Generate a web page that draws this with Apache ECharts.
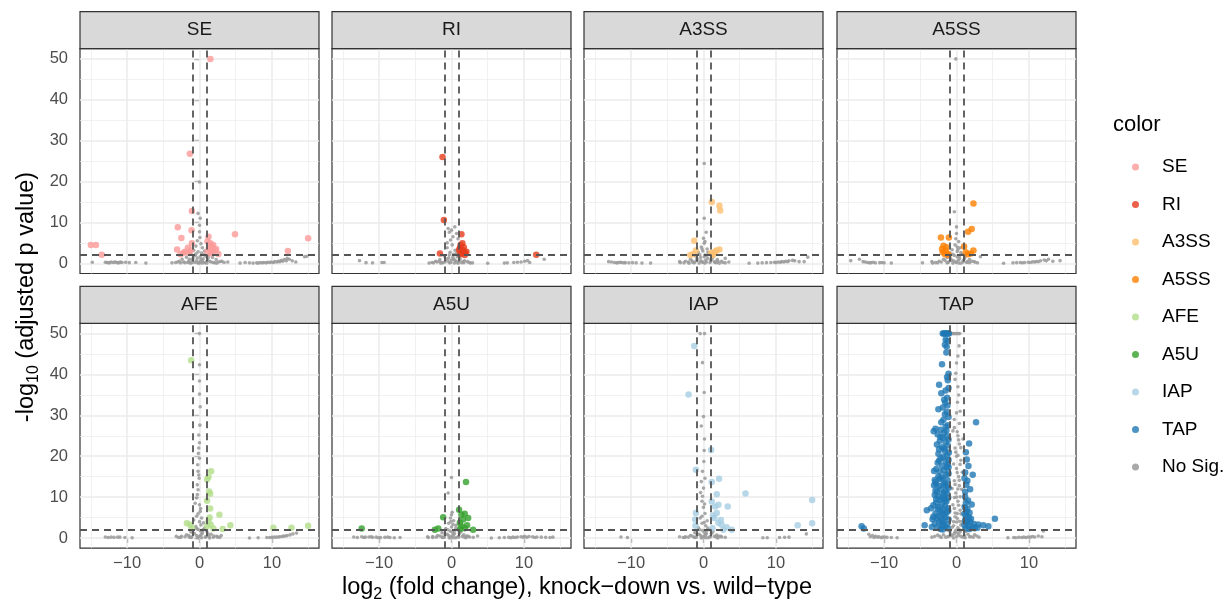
<!DOCTYPE html>
<html>
<head>
<meta charset="utf-8">
<title>Volcano facets</title>
<script src="https://cdn.jsdelivr.net/npm/echarts@6/dist/echarts.min.js"></script>
<style>
  html, body { margin: 0; padding: 0; background: #fff; }
  #chart { width: 1232px; height: 609px; }
</style>
</head>
<body>
<div id="chart"></div>
<script>
// facet names and colours (legend order)
const panels = ['SE', 'RI', 'A3SS', 'A5SS', 'AFE', 'A5U', 'IAP', 'TAP']
const panelColors = ['#FB9A99', '#E63B1C', '#FDBF6F', '#FF7F00', '#B2DF8A', '#33A02C', '#A6CEE3', '#1F78B4']
const nsColor = '#9A9A9A'

const xMajor = [-10, 0, 10]
const xMinor = [-15, -5, 5, 15]
const yMajor = [0, 10, 20, 30, 40, 50]
const yMinor = [5, 15, 25, 35, 45]
const fcCut = [-1, 1]
const pCut = 2

// [log2 fold change, -log10 adjusted p]
const seSig = [[1.5, 50], [-1.33, 26.8], [-1.05, 12.8], [-3.0, 8.8], [-1.1, 8.1], [-2.5, 6.2], [4.9, 7.1], [15.0, 6.1],
  [-15.0, 4.5], [-14.3, 4.5], [-13.5, 2.1], [12.2, 3.0], [-3.1, 3.4], [-2.2, 2.6], [-1.6, 3.8], [-1.05, 4.9], [-1.4, 2.5],
  [-2.0, 2.8], [1.24, 6.5], [1.1, 5.3], [1.5, 4.9], [1.7, 4.1], [1.9, 4.5], [2.15, 3.1], [2.6, 2.3], [1.8, 2.8], [1.3, 3.6],
  [1.6, 2.4], [1.1, 2.9], [2.3, 3.5], [-1.2, 3.2], [-2.6, 2.2]]
const seNs = [[0, 19.9], [-0.2, 12.2], [0.1, 11], [0, 9.3], [0, 7.7], [0.05, 6.3], [-0.3, 5.5], [0.2, 4.8], [-0.5, 4.2], [0.4, 3.8],
  [-0.8, 3.2], [0.7, 3.0], [-0.2, 2.8], [0.3, 2.5], [-1.2, 2.2], [1.3, 2.0], [-0.6, 1.9], [0.9, 1.7], [-1.8, 1.5], [1.8, 1.4],
  [-0.3, 1.3], [0.5, 1.1], [-2.4, 1.0], [2.3, 0.9], [-1.0, 0.8], [1.1, 0.7], [-2.8, 0.5], [2.9, 0.45], [-1.5, 0.4], [0.1, 0.35],
  [1.6, 0.3], [-0.7, 0.25], [-3.3, 0.2], [3.4, 0.2], [-2.0, 0.15], [2.1, 0.1], [0.6, 0.1], [-1.3, 0.05], [1.0, 0], [-0.1, 0],
  [3.9, 0.3], [-3.8, 0.1], [-0.4, 0.6], [0.2, 0.9], [-1.6, 0.2], [1.4, 0.5], [-0.9, 1.2], [0.8, 0.2], [-2.2, 0.3], [2.6, 0.3],
  [0.1, 1.6], [-0.5, 2.3], [0.6, 2.1], [-1.1, 0.1], [1.9, 0.2], [-2.6, 0.1], [2.4, 0.05], [0.3, 0.05], [-0.2, 0.15], [1.2, 1.3],
  [-1.4, 1.0], [0.4, 0.6], [-3.0, 0.3], [3.1, 0.5],
  [-14.8, 0.25], [-13.0, 0.25], [-12.6, 0.15], [-12.2, 0.3], [-11.9, 0.2], [-11.5, 0.25], [-11.1, 0.15], [-10.7, 0.2],
  [-10.2, 0.25], [-9.7, 0.15], [-8.8, 0.2], [-7.4, 0.05], [-12.8, 0.2], [-12.4, 0.1], [-11.7, 0.3], [-11.3, 0.1], [-10.9, 0.3],
  [5.6, 0.05], [6.3, 0.2], [6.9, 0.1], [7.4, 0.05], [7.9, 0.1], [8.4, 0.15], [8.9, 0.2], [9.4, 0.25], [9.9, 0.3], [10.4, 0.4],
  [10.9, 0.5], [11.3, 0.7], [11.7, 0.9], [12.1, 1.2], [12.4, 1.0], [12.8, 0.6], [13.3, 0.3], [14.5, 1.6], [14.8, 1.7],
  [8.1, 0.05], [8.7, 0.1], [9.2, 0.1], [9.7, 0.2], [10.2, 0.2], [10.7, 0.3], [11.1, 0.4], [11.5, 0.5], [12.0, 0.6]]

const riSig = [[-1.24, 26.0], [-1.05, 10.6], [-1.6, 2.4], [1.37, 7.1], [1.5, 4.9], [1.15, 3.7], [1.7, 3.9], [2.06, 2.8],
  [1.37, 2.4], [1.05, 3.25], [1.83, 2.0], [11.7, 2.1], [1.6, 3.2], [1.25, 4.4], [1.9, 2.6], [1.2, 2.2]]
const riNs = [[-0.46, 8.5], [0, 8.1], [0.46, 8.9], [0.7, 7.3], [-0.14, 5.7], [0.1, 4.5], [-0.6, 3.8], [0.5, 3.2], [-0.2, 2.7],
  [0.3, 2.2], [-1.0, 1.8], [0.8, 1.6], [-0.4, 1.3], [1.2, 1.1], [-1.6, 0.9], [0, 0.8], [1.8, 0.6], [-2.2, 0.5], [0.6, 0.4],
  [-0.9, 0.3], [2.4, 0.25], [-2.7, 0.2], [1.4, 0.15], [-0.3, 0.1], [-1.5, 0.05], [0.9, 0], [2.9, 0.1], [-3.1, 0.05],
  [-0.5, 0.6], [0.3, 1.0], [-1.3, 0.2], [1.6, 0.4], [-0.8, 1.1], [0.9, 0.3], [-2.0, 0.3], [2.2, 0.4], [0.2, 1.5], [-0.3, 2.0],
  [0.7, 2.5], [-1.2, 0.1], [1.7, 0.15], [-2.5, 0.1], [2.6, 0.05], [0.4, 0.05], [-0.1, 0.2], [1.1, 0.8], [-1.7, 0.5], [0.5, 0.7],
  [-0.6, 5.0], [0.2, 6.5], [-0.3, 7.6], [0.9, 6.0],
  [-12.7, 0.65], [-11.8, 0.15], [-9.6, 0.2], [-9.3, 0.2], [-10.9, 0.1],
  [5.0, 0], [7.3, 0.05], [7.7, 0.1], [8.6, 0.2], [9.1, 0.25], [9.6, 0.3], [10.1, 0.5], [10.5, 0.65], [10.8, 0.2], [12.8, 1.0]]

const a3ssSig = [[1.14, 15.0], [2.2, 14.1], [2.3, 12.9], [-1.28, 5.5], [-1.05, 3.1], [-1.83, 2.0], [-1.4, 2.3], [1.24, 2.3],
  [1.6, 2.8], [2.2, 3.4], [1.8, 3.1], [1.3, 2.0], [1.05, 2.6]]
const a3ssNs = [[0.1, 24.4], [0.1, 11.0], [0.37, 7.6], [0, 6.1], [0.1, 4.9], [-0.3, 4.0], [0.5, 3.5], [-0.1, 3.0], [-0.7, 2.6],
  [0.8, 2.3], [0.2, 2.0], [-1.1, 1.8], [1.3, 1.5], [-0.4, 1.4], [0.6, 1.2], [-1.8, 1.0], [1.9, 0.9], [-0.9, 0.7], [1.0, 0.6],
  [-2.5, 0.5], [2.5, 0.5], [-0.2, 0.4], [0.4, 0.3], [-1.5, 0.25], [1.6, 0.2], [-3.2, 0.15], [3.0, 0.1], [-0.6, 0.05], [2.2, 0],
  [-2.0, 0], [3.0, 1.2], [-0.4, 0.6], [0.3, 0.8], [-1.2, 0.3], [1.5, 0.4], [-0.9, 1.1], [0.9, 0.2], [-2.1, 0.3], [2.0, 0.5],
  [0.1, 1.6], [-0.5, 2.1], [0.6, 2.7], [-1.3, 0.1], [1.8, 0.15], [-2.7, 0.1], [2.7, 0.2], [0.2, 0.05], [-0.1, 0.2], [1.1, 1.0],
  [-1.6, 0.6], [0.4, 1.9], [-3.3, 0.4], [3.5, 0.3], [0.2, 5.3], [-0.2, 3.5],
  [-13.1, 0.4], [-12.3, 0.2], [-11.8, 0.15], [-11.3, 0.2], [-10.8, 0.15], [-10.3, 0.1], [-9.8, 0.15], [-9.3, 0.1], [-8.5, 0.05],
  [-12.7, 0.3], [-12.0, 0.1], [-11.5, 0.25], [-11.0, 0.1],
  [-7.3, 0.05], [6.3, 0], [7.5, 0.05], [8.1, 0.1], [8.7, 0.15], [9.3, 0.2], [9.8, 0.25], [10.3, 0.3], [10.8, 0.4], [11.3, 0.5],
  [11.8, 0.6], [12.3, 0.7], [12.6, 0.6], [13.2, 0.4], [13.9, 0.4], [14.4, 1.5], [10.0, 0.15], [10.6, 0.25], [11.1, 0.3], [11.6, 0.4]]

const a5ssSig = [[2.34, 14.6], [2.1, 8.4], [1.6, 7.7], [-2.15, 6.3], [-1.05, 6.3], [-1.8, 4.3], [-1.37, 3.9], [-1.55, 3.1],
  [-1.24, 2.4], [-1.9, 2.7], [1.05, 4.1], [1.28, 2.7], [2.34, 3.1], [1.97, 2.4], [-1.1, 2.0], [-1.6, 2.2], [-2.0, 3.5], [1.6, 2.2]]
const a5ssNs = [[-0.1, 50.0], [-0.3, 12.6], [0, 8.9], [0, 7.3], [0.3, 5.3], [-0.2, 4.5], [0.5, 3.8], [-0.6, 3.3], [0.1, 2.9],
  [-0.9, 2.5], [0.8, 2.2], [-0.3, 1.9], [1.2, 1.6], [-1.3, 1.4], [0.4, 1.2], [-1.8, 1.0], [1.8, 0.9], [-0.7, 0.7], [0.9, 0.6],
  [-2.4, 0.5], [2.4, 0.45], [0, 0.35], [-1.1, 0.3], [1.4, 0.2], [-2.9, 0.15], [2.9, 0.1], [-0.5, 0.05], [0.6, 0], [3.3, 1.6],
  [-3.3, 0.05], [-0.4, 0.6], [0.3, 0.8], [-1.2, 0.2], [1.5, 0.4], [-0.8, 1.1], [0.9, 0.3], [-2.1, 0.3], [2.1, 0.5], [0.1, 1.6],
  [-0.5, 2.2], [0.6, 2.6], [-1.3, 0.1], [1.8, 0.15], [-2.6, 0.1], [2.6, 0.25], [0.3, 0.05], [-0.1, 0.2], [1.1, 1.1], [-1.6, 0.7],
  [0.4, 1.8], [-3.4, 0.4], [0.1, 4.0], [-0.1, 6.0], [0.2, 3.4],
  [-14.6, 0.65], [-13.4, 1.0], [-12.9, 0.4], [-12.3, 0.2], [-11.8, 0.15], [-11.2, 0.1], [-10.6, 0.15], [-10.0, 0.1], [-9.0, 0.05],
  [-12.6, 0.3], [-12.0, 0.1], [-11.5, 0.25], [-10.3, 0.2],
  [-4.7, 0.1], [6.5, 0], [7.8, 0.1], [8.3, 0.15], [8.8, 0.2], [9.4, 0.2], [9.9, 0.25], [10.5, 0.35], [11.0, 0.45], [11.6, 0.6],
  [12.1, 0.8], [12.7, 1.0], [13.3, 0.5], [14.3, 0.65], [9.1, 0.1], [10.2, 0.2], [10.8, 0.3], [11.3, 0.4], [12.4, 0.6]]

const afeSig = [[-1.15, 43.5], [1.6, 16.3], [1.24, 14.9], [1.05, 14.3], [1.33, 11.4], [1.47, 10.8], [1.05, 9.1], [1.47, 7.2],
  [2.75, 5.7], [4.26, 3.1], [3.2, 2.2], [10.2, 2.5], [12.7, 2.5], [15.0, 3.0], [-1.74, 3.6], [-1.28, 3.25], [-1.05, 2.4],
  [1.24, 4.1], [1.55, 3.25], [1.92, 2.3], [1.05, 2.85], [1.4, 5.0]]
const afeNs = [[0, 50], [0, 42.4], [0, 38.4], [0, 35.2], [0.1, 32.1], [-0.1, 25.2], [0, 23.3], [-0.1, 22], [-0.15, 20.7],
  [0, 19.5], [-0.25, 17.9], [-0.2, 16.3], [-0.05, 14.6], [-0.3, 13.0], [-0.2, 11.8], [-0.4, 9.8], [0, 8.1], [-0.6, 8.5],
  [0.1, 6.5], [-0.4, 5.3], [0.3, 4.9], [0.55, 3.7], [-0.8, 4.4], [0.2, 3.2], [-0.5, 2.8], [0.7, 2.4], [-0.2, 2.1], [1.0, 1.7],
  [-1.2, 1.5], [0.4, 1.3], [-0.7, 1.1], [1.6, 0.9], [-1.8, 0.8], [0.1, 0.6], [-2.5, 0.4], [2.4, 0.4], [0.9, 0.3], [-1.1, 0.2],
  [2.8, 0.15], [-2.9, 0.1], [-0.3, 0.05], [1.4, 0], [-0.4, 0.6], [0.3, 0.9], [-1.4, 0.2], [1.3, 0.4], [-0.9, 1.2], [0.8, 0.2],
  [-2.0, 0.3], [2.0, 0.5], [0.15, 1.7], [-0.4, 2.3], [0.5, 2.0], [-1.2, 0.1], [1.9, 0.15], [-2.6, 0.1], [2.5, 0.2], [0.3, 0.05],
  [-0.1, 0.25], [1.2, 1.0], [-1.5, 0.6], [0.4, 1.8], [-3.2, 0.4], [3.0, 0.6], [0, 4.0], [-0.2, 5.9], [0.15, 7.2], [-0.3, 10.6],
  [-0.1, 15.4], [0.05, 27.6],
  [-13.0, 0.25], [-12.2, 0.2], [-11.8, 0.15], [-11.3, 0.2], [-10.3, 0.1], [-9.3, 0.05], [-12.6, 0.1], [-11.0, 0.2],
  [6.9, 0], [8.1, 0.05], [9.3, 0.1], [10.0, 0.15], [10.6, 0.2], [11.1, 0.3], [11.6, 0.45], [12.1, 0.6], [12.5, 0.75],
  [12.9, 1.0], [13.4, 1.2], [9.7, 0.1], [10.3, 0.2], [10.9, 0.25], [11.4, 0.35], [11.9, 0.5]]

const a5uSig = [[2.0, 13.7], [1.05, 6.9], [-1.15, 5.1], [1.83, 5.9], [1.37, 5.7], [1.6, 4.5], [1.15, 3.7], [2.15, 3.1],
  [2.98, 2.0], [-12.4, 2.3], [-1.83, 2.3], [-2.3, 2.0], [1.37, 2.85], [1.83, 2.4], [1.2, 2.2], [2.3, 4.9]]
const a5uNs = [[0, 14.8], [-0.46, 11.0], [0, 5.7], [-0.15, 4.9], [0.3, 4.2], [-0.4, 3.6], [0.6, 3.1], [0, 2.7], [-0.8, 2.3],
  [0.9, 2.0], [-0.2, 1.7], [1.3, 1.5], [-1.3, 1.3], [0.4, 1.1], [-0.6, 0.9], [1.7, 0.8], [-1.9, 0.6], [0.1, 0.5], [2.3, 0.4],
  [-2.6, 0.35], [1.0, 0.25], [-1.0, 0.2], [3.0, 0.15], [-3.2, 0.1], [0.6, 0.05], [-0.3, 0], [2.0, 0.05], [3.6, 0.5],
  [-0.4, 0.6], [0.3, 0.8], [-1.3, 0.2], [1.5, 0.4], [-0.9, 1.0], [0.9, 0.3], [-2.1, 0.2], [2.1, 0.5], [0.1, 1.4], [-0.5, 2.0],
  [0.6, 2.4], [-1.2, 0.1], [1.8, 0.15], [-2.6, 0.1], [2.5, 0.25], [0.3, 0.05], [-0.1, 0.2], [1.1, 1.1], [-1.6, 0.5], [0.4, 1.8],
  [-3.3, 0.3], [0.2, 3.3], [-0.1, 4.0], [0.1, 6.3],
  [-13.5, 0.25], [-12.4, 0.3], [-11.9, 0.2], [-11.4, 0.25], [-10.9, 0.15], [-10.4, 0.2], [-9.8, 0.1], [-9.2, 0.15],
  [-8.5, 0.1], [-7.9, 0.05], [-7.1, 0.1], [-13.0, 0.1], [-12.1, 0.1], [-11.1, 0.3], [-10.1, 0.05], [-8.8, 0.2],
  [5.5, 0], [6.6, 0.05], [7.3, 0.1], [7.9, 0.15], [8.5, 0.2], [9.1, 0.25], [9.6, 0.3], [10.1, 0.4], [10.7, 0.35], [11.2, 0.3],
  [11.8, 0.25], [12.4, 0.2], [13.0, 0.15], [13.6, 0.1], [14.0, 0.2], [8.2, 0.05], [8.8, 0.1], [9.9, 0.2], [10.4, 0.15], [11.5, 0.1]]

const iapSig = [[-1.28, 47.0], [-2.06, 35.1], [1.05, 21.5], [-1.05, 16.7], [2.15, 14.5], [1.14, 13.7], [1.83, 10.7],
  [5.8, 10.9], [15.0, 9.3], [15.0, 3.6], [13.0, 3.1], [3.34, 7.7], [-1.05, 6.1], [-1.15, 4.5], [1.14, 8.9], [1.6, 7.7],
  [2.06, 8.1], [1.83, 6.1], [1.5, 4.9], [2.06, 3.7], [2.5, 3.25], [3.2, 2.6], [3.9, 2.0], [2.75, 2.0], [1.24, 2.4],
  [-1.1, 3.0], [1.3, 5.5], [2.4, 4.4]]
const iapNs = [[-0.46, 50], [0.14, 50], [-0.14, 42.9], [0, 29.7], [0.14, 24.2], [0.1, 21.4], [0.05, 18.7], [-0.14, 16.3],
  [-0.3, 13.8], [0, 12.2], [-0.14, 10.2], [-0.2, 9.0], [0, 7.5], [0.2, 6.0], [-0.45, 4.9], [0.5, 4.2], [-0.2, 3.6], [0.3, 3.0],
  [-0.7, 2.5], [0.8, 2.0], [-0.1, 1.8], [1.3, 1.5], [-1.2, 1.3], [0.4, 1.1], [-0.6, 0.9], [1.8, 0.7], [-1.8, 0.6], [0.1, 0.5],
  [2.4, 0.4], [-2.5, 0.3], [0.9, 0.25], [-1.0, 0.2], [3.0, 0.15], [-2.8, 0.1], [0.6, 0.05], [-0.3, 0], [2.0, 0],
  [-0.4, 0.6], [0.3, 0.8], [-1.3, 0.2], [1.5, 0.4], [-0.9, 1.0], [0.9, 0.3], [-2.1, 0.2], [2.1, 0.5], [0.1, 1.4], [-0.5, 2.0],
  [0.6, 2.4], [-1.2, 0.1], [1.8, 0.15], [-2.6, 0.1], [2.5, 0.25], [0.3, 0.05], [-0.1, 0.2], [1.1, 1.1], [-1.6, 0.5], [0.4, 1.8],
  [-3.3, 0.3], [0.1, 3.8], [-0.2, 5.3], [0.15, 8.3], [-0.4, 11.1], [0.2, 14.6], [-0.3, 27.4], [0.1, 35.6],
  [-11.4, 0.25], [-10.5, 0.1], [8.2, 0.05], [8.8, 0.05], [10.5, 0.1], [11.2, 0.15], [11.8, 0.2], [14.2, 1.0]]

const tapSig = [[-1.9, 50], [-1.75, 50], [-1.6, 50], [-1.45, 50], [-1.3, 50], [-1.15, 50], [-1.05, 50],
  [-1.5, 48.5], [-1.25, 48.2], [-1.35, 46.8], [-1.6, 47.3], [-1.4, 45.4], [-2.0, 42.5], [-1.1, 40.2], [-1.3, 39.4], [-1.2, 38.6],
  [-2.4, 37.5], [-1.5, 36.1], [-1.1, 36.7], [-2.1, 35.4], [-1.3, 34.3], [-1.7, 33.8], [-1.55, 33.1], [-1.25, 32.4], [-1.9, 31.9],
  [-2.5, 31.5], [-1.35, 30.8], [-1.6, 30.3], [-1.1, 29.6], [-1.8, 28.9], [-2.1, 28.3], [-1.2, 27.6], [-1.5, 27.2], [-2.9, 26.7],
  [-2.2, 26.5], [-3.15, 26.1], [-1.7, 25.8], [-2.6, 25.3], [-1.3, 24.9], [-1.9, 24.5], [-1.1, 24.1], [-2.3, 23.8], [-1.5, 23.4],
  [-2.7, 22.9], [-1.2, 22.6], [-2.0, 22.2], [-2.4, 21.7], [-1.6, 21.3], [-1.05, 20.9], [-2.5, 20.6], [-1.3, 20.2], [-1.8, 19.8],
  [-2.2, 19.5], [-1.1, 19.1], [-1.5, 18.7], [-2.6, 18.4], [-1.2, 18.0], [-2.0, 17.6], [-1.35, 17.3], [-2.8, 16.9], [-1.7, 16.6],
  [-2.3, 16.2], [-1.1, 15.8], [-1.45, 15.5], [-2.5, 15.1], [-1.9, 14.8], [-2.1, 14.4], [-1.25, 14.1], [-2.9, 13.7], [-1.6, 13.4],
  [-1.8, 13.0], [-2.4, 12.7], [-1.1, 12.3], [-3.1, 12.9], [-2.2, 11.9], [-1.5, 11.6], [-2.7, 11.3], [-1.3, 10.9], [-1.9, 10.6],
  [-2.6, 10.3], [-1.15, 9.9], [-3.0, 10.5], [-1.7, 9.6], [-2.3, 9.3], [-1.4, 8.9], [-2.8, 8.6], [-2.0, 8.3], [-1.6, 7.9],
  [-2.5, 7.6], [-1.2, 7.3], [-3.2, 8.0], [-1.9, 6.9], [-2.2, 6.6], [-1.35, 6.3], [-2.9, 6.0], [-1.75, 5.7], [-2.5, 5.4], [-1.5, 5.1],
  [-2.7, 4.8], [-1.1, 4.5], [-2.1, 4.2], [-3.3, 4.6], [-2.4, 3.9], [-1.8, 3.6], [-1.3, 3.3], [-3.0, 3.5], [-2.0, 3.0], [-4.1, 6.8],
  [-1.6, 2.8], [-2.6, 2.6], [-1.2, 2.4], [-2.2, 2.2], [-3.4, 2.7], [-1.9, 2.1], [-2.0, 9.8], [-1.4, 12.8], [-2.8, 13.2], [-1.1, 17.3],
  [-3.1, 16.4], [-2.4, 18.9], [-1.7, 21.9], [-2.3, 14.6], [-2.9, 11.6], [-3.5, 7.3], [-2.0, 5.9], [-4.4, 3.1], [-1.5, 9.3],
  [-2.6, 7.1], [-1.9, 4.4], [-3.2, 5.2], [-1.15, 6.6], [-2.2, 24.7], [-1.4, 26.3], [-2.8, 9.5], [-1.7, 11.1], [-3.0, 14.2],
  [-13.1, 2.9], [-12.8, 2.3],
  [2.7, 28.3], [1.74, 23.1], [1.3, 21], [1.42, 19.2], [1.65, 17.6], [1.2, 16], [2.24, 15.5], [1.5, 14], [1.1, 14.6], [1.35, 13],
  [1.88, 11.9], [1.2, 11.3], [1.19, 10.1], [1.6, 9.2], [1.3, 8.6], [2.1, 8.2], [1.15, 7.5], [1.5, 7.1], [1.4, 6.5], [1.8, 6.2],
  [1.1, 5.9], [1.3, 5.5], [1.7, 5.1], [2.0, 4.7], [5.3, 4.7], [1.2, 4.4], [1.55, 4.1], [1.4, 3.7], [1.9, 3.9], [2.4, 3.4],
  [1.1, 3.2], [3.0, 3.3], [1.6, 2.9], [2.2, 2.7], [3.7, 3.1], [4.4, 2.9], [1.3, 2.3], [1.8, 2.2], [2.5, 2.4], [2.9, 2.5]]
const tapNs = [[-0.8, 50], [-0.6, 50], [-0.4, 50], [-0.2, 50], [0, 50], [0.25, 50], [0.45, 50], [0, 42.8], [-0.1, 40.3],
  [0.2, 37], [0.14, 33.2], [0, 30.6], [-0.3, 29], [0.4, 28], [0.1, 26], [-0.5, 26.2], [0.3, 24], [0.9, 24.2], [-0.2, 22],
  [0.6, 22.1], [0, 20], [0.2, 20.2], [0.5, 18], [-0.4, 18.1], [0.1, 16], [0.8, 16.1], [-0.3, 14], [0.4, 14.1], [0.2, 12],
  [-0.6, 12.1], [0.7, 11.9], [0, 10], [0.5, 10.1], [-0.3, 9.9], [0.3, 8], [-0.5, 8.1], [0.9, 7.9], [0.1, 6], [-0.2, 6.1],
  [0.6, 5.9], [-0.4, 4], [0.4, 4.1], [0, 3.9], [0.8, 4], [0.2, 2.5], [-0.6, 2.6], [1.0, 2.4], [-0.9, 1.5], [0.5, 1.5],
  [-0.2, 1.4], [1.3, 1.6], [-1.8, 0.8], [-0.7, 0.8], [0.3, 0.7], [1.6, 0.9], [2.5, 0.8], [-2.6, 0.7], [-1.2, 0.3], [0, 0.3],
  [0.9, 0.2], [2.0, 0.3], [3.1, 0.2], [-3.4, 0.2], [-2.1, 0.1], [1.2, 0.05], [-0.4, 0],
  [-0.6, 0.5], [0.6, 0.4], [-0.3, 1.0], [0.2, 1.2], [-1.0, 0.5], [1.1, 0.6], [-1.5, 0.2], [1.8, 0.3], [-2.3, 0.4], [2.3, 0.2],
  [-0.1, 1.9], [0.4, 2.0], [-0.4, 3.0], [0.6, 3.2], [0.1, 4.8], [-0.2, 5.2], [0.5, 6.8], [-0.3, 7.2], [0.2, 9.0], [-0.1, 11],
  [0.4, 12.8], [-0.2, 13.1], [0.3, 15], [0, 17], [0.6, 19], [-0.1, 21], [0.4, 23], [0.2, 25], [-0.3, 27], [0.5, 31], [0.3, 35],
  [-0.2, 38.8], [0.2, 44.5], [0.35, 47], [-3.0, 0.4], [2.8, 0.5],
  [-12.1, 0.9], [-11.6, 0.6], [-11.2, 0.4], [-10.7, 0.3], [-10.2, 0.2], [-9.6, 0.15], [-9.0, 0.1], [-8.2, 0.05],
  [-11.9, 0.3], [-11.4, 0.1], [-10.9, 0.2], [-10.4, 0.05], [-9.9, 0.25],
  [7.1, 0.05], [7.9, 0.1], [8.6, 0.15], [9.3, 0.2], [9.9, 0.25], [10.5, 0.35], [11.3, 0.5], [11.8, 0.3], [12.0, 1.7],
  [8.2, 0.05], [9.0, 0.1], [9.6, 0.1], [10.2, 0.2], [10.8, 0.25]]

const sigData = [seSig, riSig, a3ssSig, a5ssSig, afeSig, a5uSig, iapSig, tapSig]
const nsData = [seNs, riNs, a3ssNs, a5ssNs, afeNs, a5uNs, iapNs, tapNs]

// layout (px)
const colLeft = [80, 332, 584, 837]
const rowTop = [48.7, 323.4]
const panelW = 239
const panelH = 224.8
const stripH = 37
const font = '"Liberation Sans", Arial, Helvetica, sans-serif'

const minus = v => (v < 0 ? '\u2212' + Math.abs(v) : String(v))

const grids = []
const xAxes = []
const yAxes = []
const series = []
const graphics = []

panels.forEach((name, i) => {
  const col = i % 4
  const row = Math.floor(i / 4)
  grids.push({
    left: colLeft[col], top: rowTop[row], width: panelW, height: panelH,
    show: true, backgroundColor: '#fff', borderColor: '#333333', borderWidth: 1.2,
  })
  xAxes.push({
    type: 'value', gridIndex: i, min: -16.5, max: 16.5,
    axisLine: { show: false },
    splitLine: { show: false },
    axisTick: { show: row === 1, customValues: xMajor, length: 5, lineStyle: { color: '#333333', width: 1.2 } },
    axisLabel: { show: row === 1, customValues: xMajor, formatter: minus, color: '#4D4D4D', fontSize: 16.5, fontFamily: font, margin: 7 },
  })
  yAxes.push({
    type: 'value', gridIndex: i, min: -2.5, max: 52.5,
    axisLine: { show: false },
    splitLine: { show: false },
    axisTick: { show: col === 0, customValues: yMajor, length: 5, lineStyle: { color: '#333333', width: 1.2 } },
    axisLabel: { show: col === 0, customValues: yMajor, color: '#4D4D4D', fontSize: 16.5, fontFamily: font, margin: 12 },
  })

  const gridLines = [
    ...xMinor.map(v => ({ xAxis: v, lineStyle: { width: 0.7 } })),
    ...yMinor.map(v => ({ yAxis: v, lineStyle: { width: 0.7 } })),
    ...xMajor.map(v => ({ xAxis: v, lineStyle: { width: 1.5 } })),
    ...yMajor.map(v => ({ yAxis: v, lineStyle: { width: 1.5 } })),
  ]
  series.push({
    name: 'grid' + i, type: 'scatter', xAxisIndex: i, yAxisIndex: i, data: [], z: 1, silent: true,
    markLine: {
      z: 1, silent: true, symbol: ['none', 'none'], label: { show: false },
      lineStyle: { color: '#EBEBEB', type: 'solid' },
      data: gridLines,
    },
  })
  series.push({
    name: 'No Sig.', type: 'scatter', xAxisIndex: i, yAxisIndex: i, z: 2,
    data: nsData[i], symbolSize: 3.6,
    itemStyle: { color: nsColor, opacity: 0.85, borderWidth: 0 },
  })
  series.push({
    name, type: 'scatter', xAxisIndex: i, yAxisIndex: i, z: 3,
    data: sigData[i], symbolSize: 6.5,
    itemStyle: { color: panelColors[i], opacity: 0.8, borderWidth: 0 },
  })
  series.push({
    name: 'cut' + i, type: 'scatter', xAxisIndex: i, yAxisIndex: i, data: [], z: 4, silent: true,
    markLine: {
      z: 6, silent: true, symbol: ['none', 'none'], label: { show: false },
      lineStyle: { color: '#555555', type: [7, 5], width: 1.8 },
      data: [...fcCut.map(v => ({ xAxis: v })), { yAxis: pCut }],
    },
  })

  // facet strip
  graphics.push({
    type: 'rect', silent: true, z: 10,
    shape: { x: colLeft[col], y: rowTop[row] - stripH, width: panelW, height: stripH },
    style: { fill: '#D9D9D9', stroke: '#333333', lineWidth: 1.2 },
  })
  graphics.push({
    type: 'text', silent: true, z: 11,
    x: colLeft[col] + panelW / 2, y: rowTop[row] - stripH / 2,
    style: { text: name, fill: '#1A1A1A', font: '19px ' + font, align: 'center', verticalAlign: 'middle' },
  })
})

// axis titles with subscripts
const titleRich = {
  n: { fontSize: 23.5, fontFamily: font, fill: '#000' },
  s: { fontSize: 16, fontFamily: font, fill: '#000', padding: [13, 0, 0, 0] },
}
graphics.push({
  type: 'text', silent: true, x: 577, y: 588,
  style: {
    text: '{n|log}{s|2}{n| (fold change), knock\u2212down vs. wild\u2212type}',
    align: 'center', verticalAlign: 'middle', rich: titleRich,
  },
})
graphics.push({
  type: 'text', silent: true, x: 27, y: 297, rotation: Math.PI / 2,
  style: {
    text: '{n|-log}{s|10}{n| (adjusted p value)}',
    align: 'center', verticalAlign: 'middle', rich: titleRich,
  },
})
graphics.push({
  type: 'text', silent: true, x: 1113, y: 125,
  style: { text: 'color', fill: '#000', font: '22px ' + font, align: 'left', verticalAlign: 'middle' },
})

const chart = echarts.init(document.getElementById('chart'))
chart.setOption({
  animation: false,
  backgroundColor: '#fff',
  grid: grids,
  xAxis: xAxes,
  yAxis: yAxes,
  legend: {
    orient: 'vertical', left: 1127, top: 152,
    data: [...panels, 'No Sig.'],
    icon: 'circle', itemWidth: 7, itemHeight: 7, itemGap: 17.5,
    selectedMode: false,
    textStyle: { fontSize: 19, fontFamily: font, color: '#000', lineHeight: 20, padding: [0, 0, 0, 18] },
  },
  graphic: graphics,
  series,
})
</script>
</body>
</html>
